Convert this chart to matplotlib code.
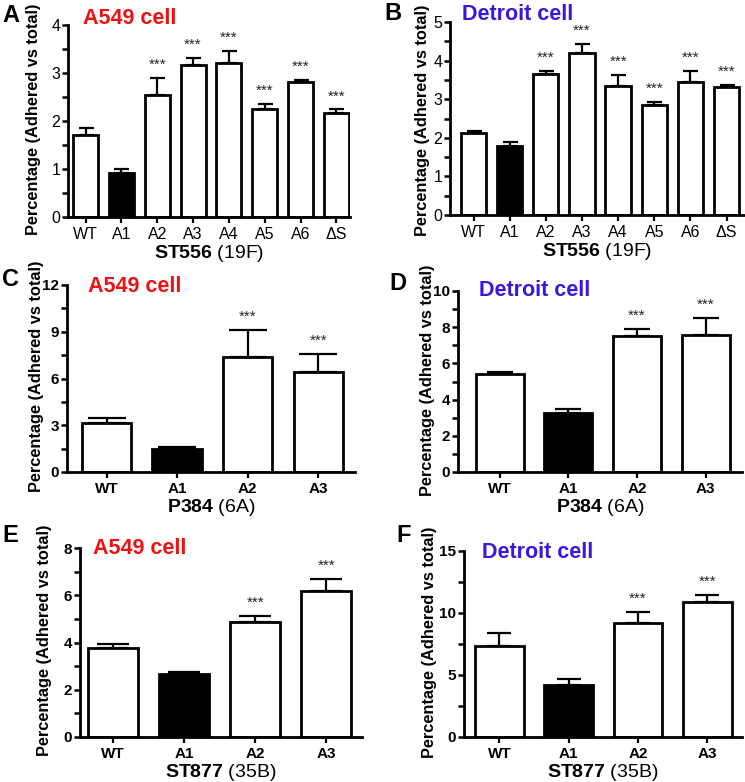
import matplotlib
matplotlib.use('Agg')
import matplotlib.pyplot as plt
from matplotlib.ticker import MultipleLocator, FuncFormatter

plt.rcParams['font.family'] = ['Liberation Sans', 'DejaVu Sans']
plt.rcParams['mathtext.fontset'] = 'custom'
plt.rcParams['mathtext.rm'] = 'Liberation Sans'
plt.rcParams['mathtext.bf'] = 'Liberation Sans:bold'

# ---------------- data ----------------
cats8 = ['WT', 'A1', 'A2', 'A3', 'A4', 'A5', 'A6', 'ΔS']
cats4 = ['WT', 'A1', 'A2', 'A3']

a_vals = [1.71, 0.92, 2.54, 3.17, 3.20, 2.24, 2.82, 2.16]
a_err = [0.15, 0.09, 0.35, 0.14, 0.26, 0.11, 0.03, 0.08]
a_sig = [False, False, True, True, True, True, True, True]

b_vals = [2.12, 1.79, 3.64, 4.19, 3.35, 2.85, 3.45, 3.32]
b_err = [0.06, 0.09, 0.09, 0.23, 0.27, 0.09, 0.28, 0.05]
b_sig = [False, False, True, True, True, True, True, True]

c_vals = [3.12, 1.46, 7.40, 6.40]
c_err = [0.33, 0.16, 1.71, 1.15]
c_sig = [False, False, True, True]

d_vals = [5.40, 3.28, 7.53, 7.57]
d_err = [0.14, 0.18, 0.37, 0.92]
d_sig = [False, False, True, True]

e_vals = [3.76, 2.66, 4.86, 6.16]
e_err = [0.18, 0.11, 0.27, 0.52]
e_sig = [False, False, True, True]

f_vals = [7.36, 4.19, 9.17, 10.86]
f_err = [1.00, 0.46, 0.89, 0.59]
f_sig = [False, False, True, True]

strain_bold = ['ST556', 'ST556', 'P384', 'P384', 'ST877', 'ST877']
strain_type = ['(19F)', '(19F)', '(6A)', '(6A)', '(35B)', '(35B)']
cell_titles = ['A549 cell', 'Detroit cell', 'A549 cell', 'Detroit cell', 'A549 cell', 'Detroit cell']
panel_letters = ['A', 'B', 'C', 'D', 'E', 'F']
y_max = [4, 5, 12, 10, 8, 15]
y_major = [1, 1, 3, 2, 2, 5]
y_minor = [0.5, 0.5, 1.5, 1, 1, 2.5]

# ---------------- layout ----------------
W, H = 745, 782
fig = plt.figure(figsize=(W / 100, H / 100), dpi=100)
fig.patch.set_facecolor('white')

RED = '#ee1111'
BLUE = '#3a17e0'

# (left, top, right, bottom) in pixels, xlim
panels = [
    dict(rect=(68, 25, 350, 217), xlim=(-0.49, 7.38), cap=5.4, bold=False,
         title=(83, 18), letter=(2, 15), ylab_x=41, ylab_y=119),
    dict(rect=(450, 22, 744, 215), xlim=(-0.65, 7.48), cap=5.4, bold=False,
         title=(462, 15), letter=(384, 13), ylab_x=430, ylab_y=120),
    dict(rect=(67, 285, 355, 472), xlim=(-0.56, 3.52), cap=14, bold=True,
         title=(88, 287), letter=(2, 280), ylab_x=44, ylab_y=376),
    dict(rect=(458, 291, 742, 472), xlim=(-0.61, 3.53), cap=9.7, bold=True,
         title=(479, 290), letter=(389, 284), ylab_x=435, ylab_y=380),
    dict(rect=(80, 548, 362, 737), xlim=(-0.46, 3.5), cap=11.5, bold=True,
         title=(93, 548), letter=(2, 535), ylab_x=52, ylab_y=640),
    dict(rect=(464, 551, 742, 737), xlim=(-0.51, 3.5), cap=8.4, bold=True,
         title=(482, 553), letter=(396, 535), ylab_x=437, ylab_y=642),
]

vals_all = [a_vals, b_vals, c_vals, d_vals, e_vals, f_vals]
errs_all = [a_err, b_err, c_err, d_err, e_err, f_err]
sig_all = [a_sig, b_sig, c_sig, d_sig, e_sig, f_sig]
cats_all = [cats8, cats8, cats4, cats4, cats4, cats4]

for i, p in enumerate(panels):
    l, t, r, b = p['rect']
    ax = fig.add_axes([l / W, 1 - b / H, (r - l) / W, (b - t) / H])
    cats = cats_all[i]
    vals = vals_all[i]
    errs = errs_all[i]
    x = list(range(len(cats)))
    colors = ['black' if c == 'A1' else 'white' for c in cats]
    ax.bar(x, vals, width=0.7, color=colors, edgecolor='black', linewidth=2.0, zorder=2)
    ax.errorbar(x, vals, yerr=[[0] * len(vals), errs], fmt='none', ecolor='black',
                elinewidth=1.6, capsize=p['cap'], capthick=1.6, zorder=1)
    for xi, v, e, s in zip(x, vals, errs, sig_all[i]):
        if s:
            ax.annotate('***', (xi, v + e), xytext=(0, 9.5), textcoords='offset points',
                        ha='center', va='center', fontsize=11, color='#222222')
    ax.set_xlim(*p['xlim'])
    ax.set_ylim(0, y_max[i])
    ax.yaxis.set_major_locator(MultipleLocator(y_minor[i]))
    maj = y_major[i]
    ax.yaxis.set_major_formatter(FuncFormatter(
        lambda v, pos, m=maj: ('%d' % round(v)) if abs(v / m - round(v / m)) < 1e-6 else ''))
    ax.set_xticks(x)
    fw = 'bold' if p['bold'] else 'normal'
    ax.set_xticklabels(cats, fontsize=11.5 if not p['bold'] else 11, fontweight=fw)
    for lab in ax.get_yticklabels():
        lab.set_fontweight(fw)
        lab.set_fontsize(11.5 if not p['bold'] else 11)
    for sp in ['top', 'right']:
        ax.spines[sp].set_visible(False)
    for sp in ['left', 'bottom']:
        ax.spines[sp].set_linewidth(2.0)
    ax.tick_params(axis='y', length=4, width=1.8, pad=1.5)
    ax.tick_params(axis='x', length=4, width=1.6, pad=3)
    ax.set_xlabel(r'$\mathbf{%s}$ %s' % (strain_bold[i], strain_type[i]), fontsize=14, labelpad=1)
    ax.set_ylabel('Percentage (Adhered vs total)', fontsize=11.8, fontweight='bold')
    ax.yaxis.set_label_coords((p['ylab_x'] - l) / (r - l), (b - p['ylab_y']) / (b - t))
    tx, ty = p['title']
    fig.text(tx / W, 1 - ty / H, cell_titles[i], fontsize=15.5, fontweight='bold',
             color=RED if 'A549' in cell_titles[i] else BLUE, ha='left', va='center')
    lx, ly = p['letter']
    fig.text(lx / W, 1 - ly / H, panel_letters[i], fontsize=17, fontweight='bold',
             ha='left', va='center')

fig.savefig('out.png', dpi=100, facecolor='white')
